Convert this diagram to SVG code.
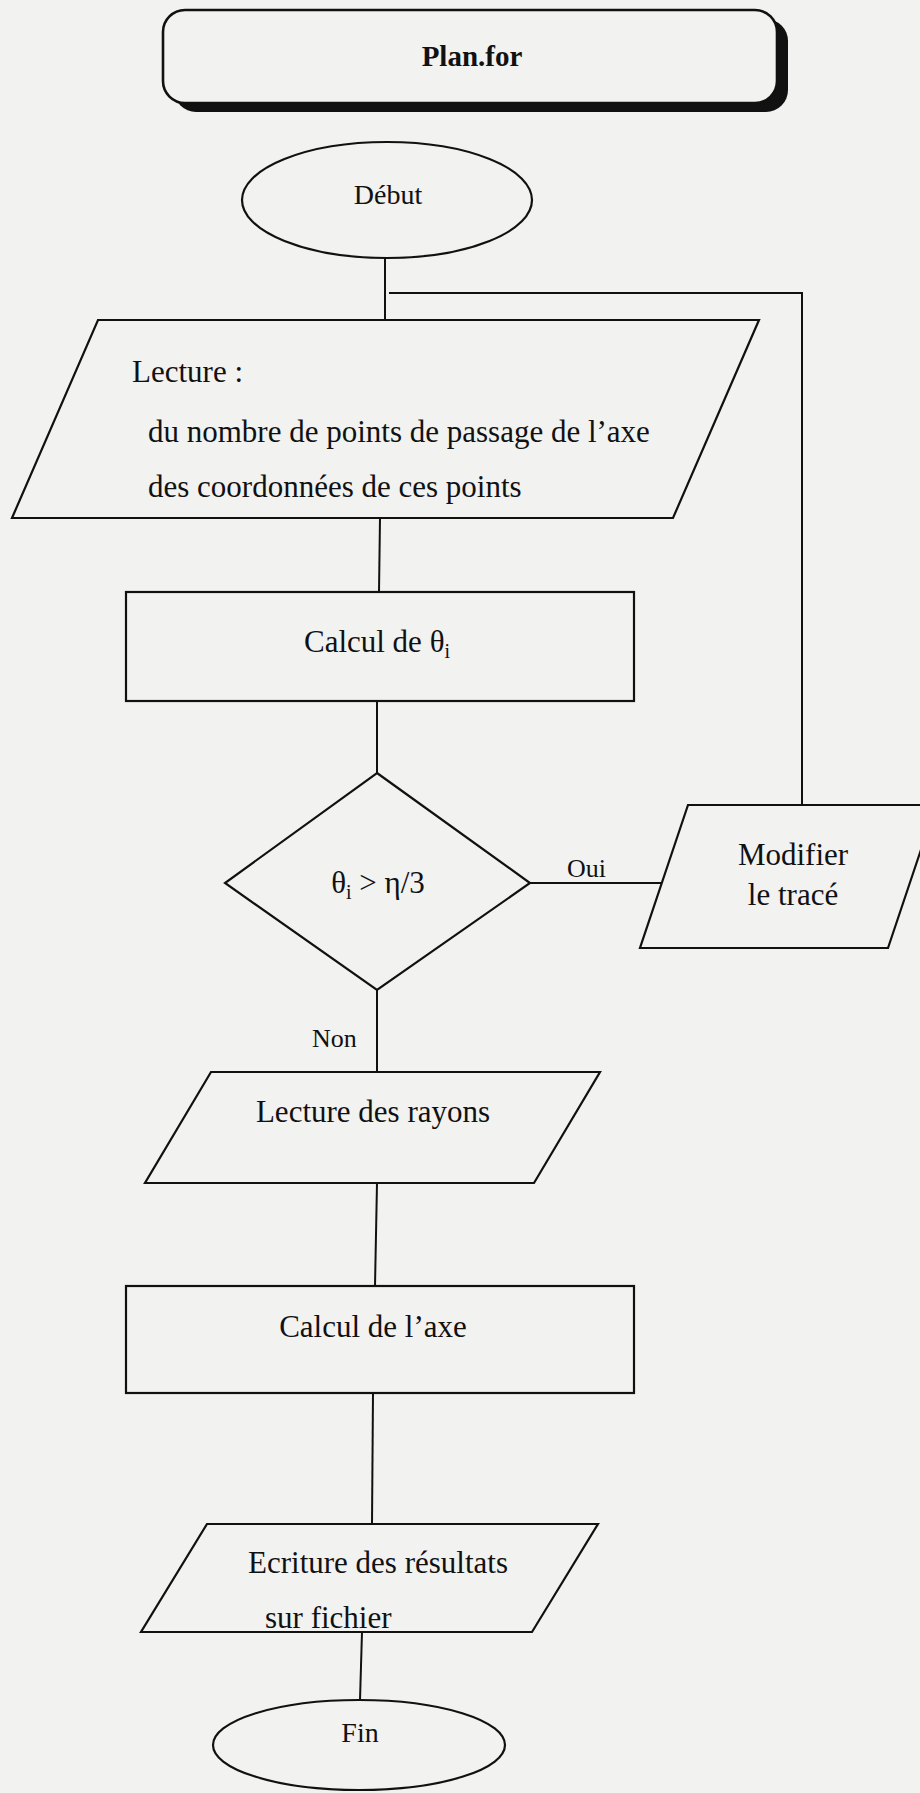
<svg xmlns="http://www.w3.org/2000/svg" width="920" height="1793" viewBox="0 0 920 1793">
<style>
.shape{fill:#f2f2f1;stroke:#111;stroke-width:2.2;stroke-linejoin:miter}
.conn{fill:none;stroke:#111;stroke-width:2}
text{font-family:"Liberation Serif","Times New Roman",serif;fill:#111}
.t{font-size:31px}
.s{font-size:28px}
.l{font-size:26px}
.sub{font-size:20px}
</style>
<rect x="0" y="0" width="920" height="1793" fill="#f2f2f1"/>
<g id="connectors">
<line class="conn" x1="385" y1="258" x2="385" y2="320"/>
<polyline class="conn" points="389,293 802,293 802,805"/>
<line class="conn" x1="380" y1="518" x2="379" y2="592"/>
<line class="conn" x1="377" y1="701" x2="377" y2="773"/>
<line class="conn" x1="377" y1="990" x2="377" y2="1072"/>
<line class="conn" x1="377" y1="1183" x2="375" y2="1286"/>
<line class="conn" x1="373" y1="1393" x2="372" y2="1524"/>
<line class="conn" x1="362" y1="1632" x2="360" y2="1700"/>
<line class="conn" x1="530" y1="883" x2="663" y2="883"/>
<text class="l" x="567" y="877">Oui</text>
<text class="l" x="312" y="1047">Non</text>
</g>
<g id="title">
<rect x="174" y="19" width="614" height="93" rx="22" ry="22" fill="#111"/>
<rect x="163" y="10" width="614" height="93" rx="22" ry="22" fill="#f2f2f1" stroke="#111" stroke-width="2.6"/>
<text x="472" y="66" font-size="29" font-weight="bold" text-anchor="middle">Plan.for</text>
</g>
<g id="debut">
<ellipse class="shape" cx="387" cy="200" rx="145" ry="58"/>
<text class="s" x="388" y="204" text-anchor="middle">Début</text>
</g>
<g id="lecture">
<polygon class="shape" points="98,320 759,320 673,518 12,518"/>
<text class="t" x="132" y="382">Lecture :</text>
<text class="t" x="148" y="442">du nombre de points de passage de l’axe</text>
<text class="t" x="148" y="497">des coordonnées de ces points</text>
</g>
<g id="calcul-theta">
<rect class="shape" x="126" y="592" width="508" height="109"/>
<text class="t" x="377" y="652" text-anchor="middle">Calcul de θ<tspan class="sub" dy="6">i</tspan></text>
</g>
<g id="test">
<polygon class="shape" points="377,773 530,883 377,990 225,883"/>
<text class="t" x="378" y="893" text-anchor="middle">θ<tspan class="sub" dy="6">i</tspan><tspan dy="-6"> &gt; η/3</tspan></text>
</g>
<g id="modifier">
<polygon class="shape" points="688,805 936,805 888,948 640,948"/>
<text class="t" x="793" y="865" text-anchor="middle">Modifier</text>
<text class="t" x="793" y="905" text-anchor="middle">le tracé</text>
</g>
<g id="lecture-rayons">
<polygon class="shape" points="211,1072 600,1072 534,1183 145,1183"/>
<text class="t" x="373" y="1122" text-anchor="middle">Lecture des rayons</text>
</g>
<g id="calcul-axe">
<rect class="shape" x="126" y="1286" width="508" height="107"/>
<text class="t" x="373" y="1337" text-anchor="middle">Calcul de l’axe</text>
</g>
<g id="ecriture">
<polygon class="shape" points="207,1524 598,1524 532,1632 141,1632"/>
<text class="t" x="378" y="1573" text-anchor="middle">Ecriture des résultats</text>
<text class="t" x="265" y="1628">sur fichier</text>
</g>
<g id="fin">
<ellipse class="shape" cx="359" cy="1745" rx="146" ry="45"/>
<text class="s" x="360" y="1742" text-anchor="middle">Fin</text>
</g>
</svg>
